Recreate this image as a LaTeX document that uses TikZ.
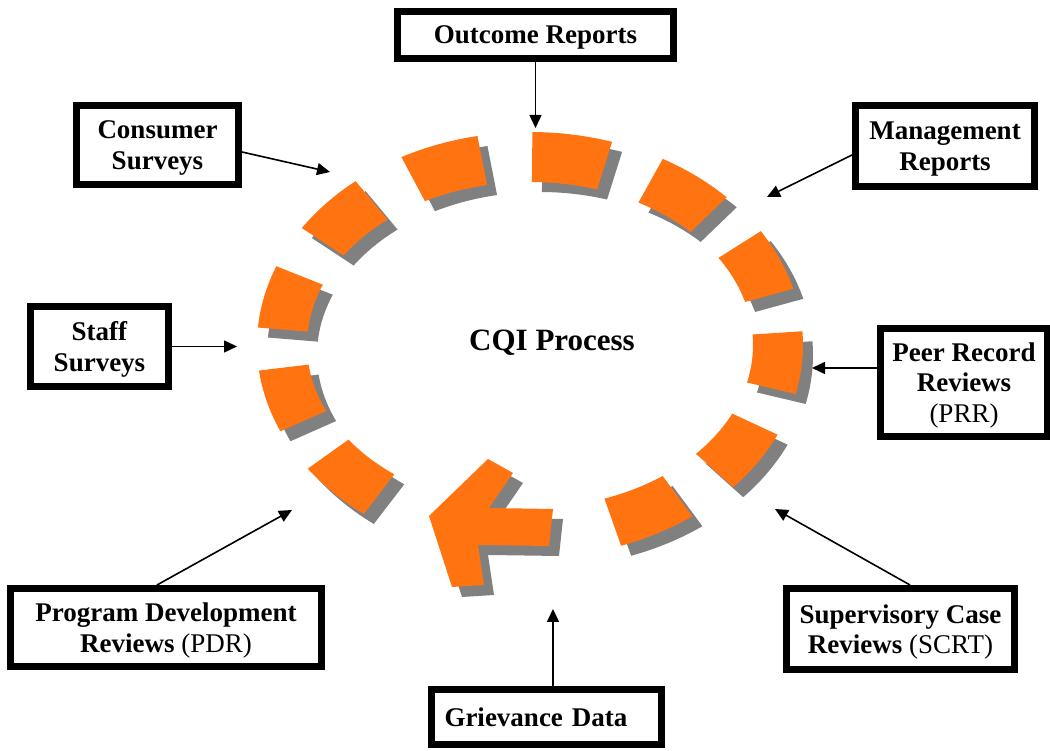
\documentclass[tikz,border=0pt]{standalone}
\usepackage{fontspec}
\setmainfont{Liberation Serif}
\usetikzlibrary{arrows.meta,positioning}
\definecolor{cqiorange}{RGB}{255,115,17}
\definecolor{cqishadow}{RGB}{128,128,128}

\begin{document}
\begin{tikzpicture}[x=1pt,y=1pt,
    srcbox/.style={draw,line width=7pt,fill=white,align=center,inner sep=3pt,
      text depth=-2pt,font=\fontsize{27}{30.5}\selectfont},
    feed/.style={line width=1.6pt,-{Triangle[length=13pt,width=12pt]}},
    tile/.style={fill=cqiorange}]
    \useasboundingbox (0,0) rectangle (1050,751);

    % Ring of tiles (shadow first, then orange)
    \begin{scope}[shift={(530,406)}]
        \foreach \col/\sx/\sy in {cqishadow/10/-10,cqiorange/0/0} {
            \begin{scope}[shift={(\sx,\sy)}]
                \foreach \a in {-62,-33.4,-4.8,23.8,52.4,81,109.6,138.2,166.8,195.4,224}
                    \fill[\col] (\a-8.5:273pt and 213pt)
                        arc[start angle=\a-8.5,end angle=\a+8.5,x radius=273pt,y radius=213pt]
                        -- (\a+8.5:223pt and 163pt)
                        arc[start angle=\a+8.5,end angle=\a-8.5,x radius=223pt,y radius=163pt]
                        -- cycle;
            \end{scope}
        }
    \end{scope}

    % Arrow head of the ring
    \fill[cqishadow,shift={(10,-10)}] (429,235) -- (488,292) -- (513,278) -- (489,243) -- (553,242)
        -- (549,205) -- (478,206) -- (484,166) -- (452,164) -- cycle;
    \fill[tile] (429,235) -- (488,292) -- (513,278) -- (489,243) -- (553,242)
        -- (549,205) -- (478,206) -- (484,166) -- (452,164) -- cycle;

    % Process label
    \node[font=\bfseries\fontsize{31}{36}\selectfont] (cqi) at (552,408) {CQI Process};

    % Sources
    \node[srcbox,minimum width=276pt,minimum height=47pt] (outcome) at (535.5,716) {\textbf{Outcome Reports}};
    \node[srcbox,minimum width=162pt,minimum height=79pt] (consumer) at (157.5,606) {\textbf{Consumer}\\\textbf{Surveys}};
    \node[srcbox,minimum width=179pt,minimum height=81pt] (management) at (945,605) {\textbf{Management}\\\textbf{Reports}};
    \node[srcbox,minimum width=138pt,minimum height=80pt] (staff) at (99.5,404.5) {\textbf{Staff}\\\textbf{Surveys}};
    \node[srcbox,minimum width=167pt,minimum height=108pt] (prr) at (964,368.5) {\textbf{Peer Record}\\\textbf{Reviews}\\(PRR)};
    \node[srcbox,minimum width=311pt,minimum height=78pt] (pdr) at (166,123.5) {\textbf{Program Development}\\\textbf{Reviews} (PDR)};
    \node[srcbox,minimum width=228pt,minimum height=81pt] (scrt) at (900.5,122) {\textbf{Supervisory Case}\\\textbf{Reviews} (SCRT)};
    \node[srcbox,text width=204pt,align=left,inner sep=13pt,minimum height=55pt] (grievance) at (546.5,34) {\textbf{Grievance Data}};

    % Ends of the feeds, next to the ring
    \coordinate (c-outcome) at (535.5,623);
    \coordinate (c-consumer) at (330,579);
    \coordinate (c-management) at (767,554);
    \coordinate (c-staff) at (237,404.5);
    \coordinate (c-prr) at (812,383);
    \coordinate (c-pdr) at (292,241);
    \coordinate (c-scrt) at (775,242);
    \coordinate (c-grievance) at (553,142);

    % Feeds
    \draw[feed] (outcome) -- (c-outcome);
    \draw[feed] ([yshift=-7pt]consumer.east) -- (c-consumer);
    \draw[feed] ([yshift=-9pt]management.west) -- (c-management);
    \draw[feed] (staff.east) -- (c-staff);
    \draw[feed] ([yshift=14.5pt]prr.west) -- (c-prr);
    \draw[feed] ([xshift=-9pt]pdr.north) -- (c-pdr);
    \draw[feed] ([xshift=9.5pt]scrt.north) -- (c-scrt);
    \draw[feed] (grievance.north -| c-grievance) -- (c-grievance);
\end{tikzpicture}
\end{document}
